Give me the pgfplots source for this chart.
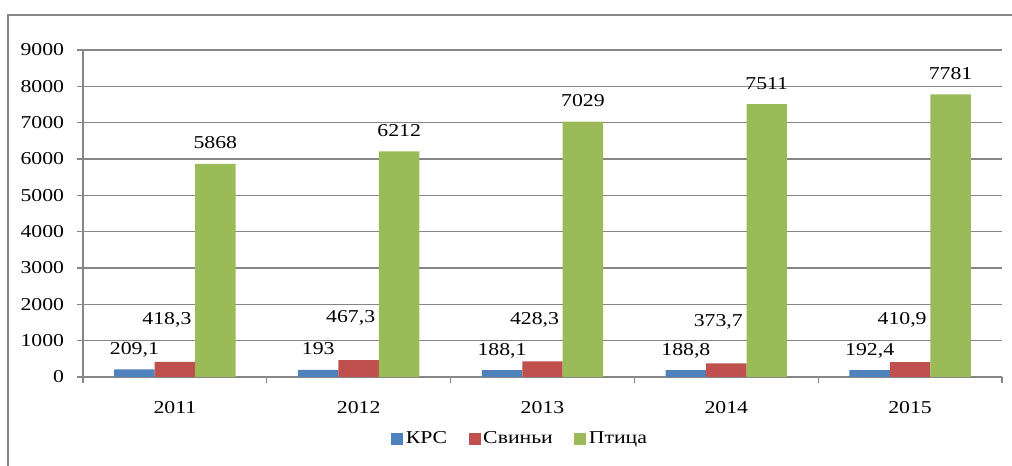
\documentclass[border=0pt]{standalone}
\usepackage{fontspec}
\setmainfont{Liberation Serif}[FakeStretch=1.2]
\usepackage{pgfplots}
\usepackage{pgfplotstable}
\pgfplotsset{compat=1.18}
\definecolor{cb}{HTML}{4F81BD}
\definecolor{cr}{HTML}{C0504D}
\definecolor{cg}{HTML}{9BBB59}
\definecolor{gl}{HTML}{868686}
\pgfplotstableread{
x krs svin ptica
0 209.1 418.3 5868
1 193 467.3 6212
2 188.1 428.3 7029
3 188.8 373.7 7511
4 192.4 410.9 7781
}\data
\begin{document}
\fontsize{13.6}{16}\selectfont
\begin{tikzpicture}[font=\fontsize{13.6}{16}\selectfont]
\useasboundingbox (0,0) rectangle (759pt,349.5pt);
\draw[gl, line width=1pt] (6pt,0) -- (6pt,338.25pt) -- (759pt,338.25pt);
\begin{axis}[
  at={(62.25pt,66.75pt)}, anchor=south west,
  scale only axis, width=689.25pt, height=245.25pt,
  xmin=-0.5, xmax=4.5, ymin=0, ymax=9000,
  ybar=0pt,
  axis lines*=left,
  axis line style={gl, line width=0.9pt},
  ytick={0,1000,...,9000},
  xtick={0,1,2,3,4},
  xticklabels={2011,2012,2013,2014,2015},
  minor xtick={-0.5,0.5,1.5,2.5,3.5,4.5},
  tick align=outside,
  major tick length=4.5pt,
  minor tick length=4.5pt,
  major x tick style={draw=none},
  every tick/.style={gl, line width=0.9pt},
  ymajorgrids,
  grid style={gl, line width=0.9pt},
  tick label style={font=\fontsize{13.6}{16}\selectfont},
  xticklabel style={yshift=-9pt},
  yticklabel style={xshift=-5pt},
  legend style={at={(axis description cs:0.476,-0.189)}, anchor=center, draw=none, fill=none,
    font=\fontsize{13.6}{16}\selectfont,
    legend columns=-1, /tikz/every even column/.append style={column sep=14pt}},
  legend image code/.code={\fill[#1] (0pt,-4.5pt) rectangle (9pt,4.5pt);},
  /pgf/number format/use comma,
  /pgf/number format/1000 sep={},
  /pgf/number format/assume math mode=true,
]
\addplot[fill=cb, draw=none, bar shift=-0.22, bar width=0.22,
  nodes near coords, nodes near coords style={anchor=base, yshift=11.25pt, text=black, font=\fontsize{13.6}{16}\selectfont}]
  table[x=x, y=krs]{\data};
\addplot[fill=cr, draw=none, bar shift=0, bar width=0.22,
  nodes near coords, nodes near coords style={anchor=base, yshift=28pt, xshift=-6pt, text=black, font=\fontsize{13.6}{16}\selectfont}]
  table[x=x, y=svin]{\data};
\addplot[fill=cg, draw=none, bar shift=0.22, bar width=0.22,
  nodes near coords, nodes near coords style={anchor=base, yshift=11.25pt, text=black, font=\fontsize{13.6}{16}\selectfont}]
  table[x=x, y=ptica]{\data};
\legend{КРС, Свиньи, Птица}
\end{axis}
\end{tikzpicture}
\end{document}
